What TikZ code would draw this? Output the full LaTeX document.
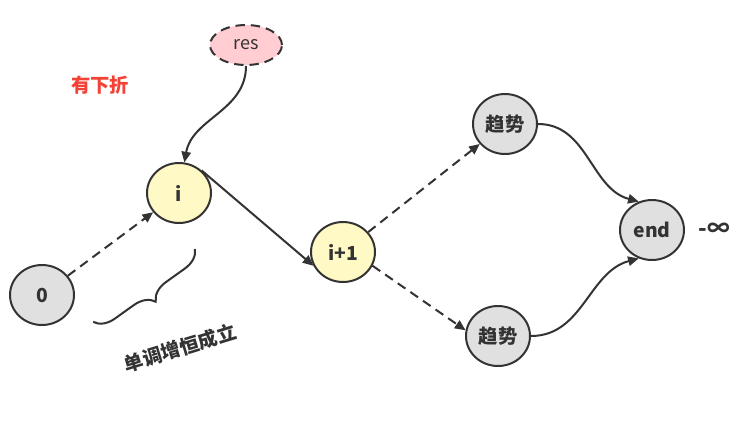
\documentclass[tikz,border=0pt]{standalone}
\usepackage{fontspec}
\setmainfont{Noto Sans CJK SC}
\usetikzlibrary{shapes.geometric,arrows.meta,decorations.pathreplacing}
\definecolor{linegray}{HTML}{333333}
\definecolor{greyfill}{HTML}{E0E0E0}
\definecolor{yelfill}{HTML}{FFF9C6}
\definecolor{pinkfill}{HTML}{FFCDD2}
\definecolor{redtext}{HTML}{F44336}
\begin{document}
\begin{tikzpicture}[x=0.75pt,y=-0.75pt,line width=1.5pt,draw=linegray,
    every node/.style={shape=ellipse,draw=linegray,line width=1.5pt,inner sep=0pt,minimum width=48pt,minimum height=45pt,text=linegray,font=\fontsize{14.5}{16}\selectfont\bfseries},
    grey/.style={fill=greyfill},yel/.style={fill=yelfill},
    txt/.style={draw=none,shape=rectangle,minimum width=0pt,minimum height=0pt},
    arr/.style={-{Triangle[length=8pt,width=7pt]}},
    dsh/.style={dash pattern=on 7pt off 4.5pt}]
  \useasboundingbox (0,0) rectangle (740,425);
  \node[fill=pinkfill,dsh,minimum width=54pt,minimum height=30pt,font=\fontsize{13.5}{15}\selectfont] (res) at (246,45) {res};
  \node[txt,text=redtext] (note) at (100,85) {有下折};
  \node[yel] (i) at (179,193) {i};
  \node[grey] (o) at (42,295) {0};
  \node[yel] (ip) at (343,252) {i+1};
  \node[grey] (t) at (505,124) {趋势};
  \node[grey] (b) at (498,336) {趋势};
  \node[grey] (end) at (652,230) {end};
  \node[txt,font=\fontsize{17}{18}\selectfont\bfseries] (inf) at (714,230) {-∞};
  \node[txt,rotate=17] (mono) at (180,348) {单调增恒成立};
  % brace
  \coordinate (bu) at (195,249);
  \coordinate (bd) at (93,322);
  \draw[decorate,decoration={brace,amplitude=15pt}] (bu) -- (bd);
  % edges
  \draw[arr] (res) to[out=-90,in=80] (i);
  \draw[arr,dsh] (o) -- (i);
  \draw[arr] (i.45) -- (ip.205);
  \draw[arr,dsh] (ip) -- (t);
  \draw[arr,dsh] (ip.-25) -- (b.170);
  \draw[arr] (t.east) to[out=0,in=165] (end.115);
  \draw[arr] (b.east) to[out=0,in=195] (end.245);
\end{tikzpicture}
\end{document}
